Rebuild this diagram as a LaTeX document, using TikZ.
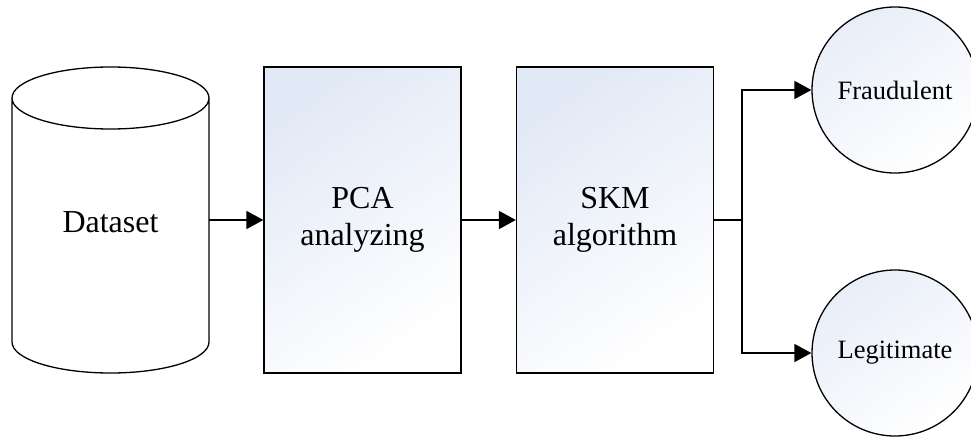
\documentclass[tikz,border=0pt]{standalone}
\usepackage{fontspec}
\setmainfont{Liberation Serif}
\usetikzlibrary{arrows.meta,positioning}
\definecolor{shadec}{RGB}{226,233,246}
\begin{document}
\begin{tikzpicture}[x=1pt,y=-1pt,
  procbox/.style={draw=black, line width=1.3pt, top color=shadec, bottom color=white, shading angle=35,
     minimum width=197pt, minimum height=306pt, inner sep=0pt, align=center,
     font=\fontsize{32}{37}\selectfont},
  endcircle/.style={circle, draw=black, line width=1.3pt, top color=shadec!80, bottom color=white, shading angle=35,
     minimum size=166pt, inner sep=0pt, font=\fontsize{26.5}{31}\selectfont},
  flow/.style={line width=1.8pt, -{Triangle[length=17pt,width=18pt]}},
  plain/.style={line width=1.8pt}]
\useasboundingbox (0,0) rectangle (971,439);
% cylinder
\draw[line width=1.3pt, fill=white] (12,98) -- (12,342) arc[start angle=180, end angle=360, x radius=98.5pt, y radius=31pt]
  -- (209,98) arc[start angle=0, end angle=-180, x radius=98.5pt, y radius=31pt] -- cycle;
\draw[line width=1.3pt] (12,98) arc[start angle=180, end angle=0, x radius=98.5pt, y radius=31pt];
\node[minimum width=197pt, minimum height=306pt, inner sep=0pt, font=\fontsize{32}{37}\selectfont] (ds) at (110.5,222) {Dataset};
\node[procbox] (pca) at (362.5,220) {PCA\\analyzing};
\node[procbox] (skm) at (615,220) {SKM\\algorithm};
\node[endcircle] (fr) at (895,90) {Fraudulent};
\node[endcircle] (lg) at (895,353) {Legitimate};
\coordinate (br) at (742,220);
\draw[flow] (ds.east |- 0,220) -- (pca.west);
\draw[flow] (pca.east) -- (skm.west);
\draw[plain] (skm.east) -- (br);
\draw[flow] (br) |- (fr.west);
\draw[flow] (br) |- (lg.west);
\end{tikzpicture}
\end{document}
